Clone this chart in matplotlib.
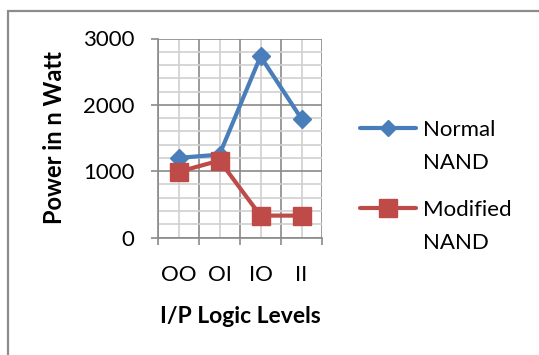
import matplotlib
matplotlib.use("Agg")
import matplotlib.pyplot as plt
from matplotlib.ticker import MultipleLocator, FixedLocator
from matplotlib.patches import Rectangle
from matplotlib.lines import Line2D
from matplotlib.transforms import ScaledTranslation

categories = ["OO", "OI", "IO", "II"]
normal_nand = [1200, 1250, 2730, 1790]
modified_nand = [990, 1160, 330, 330]
series_labels = ["Normal\nNAND", "Modified\nNAND"]
y_ticks = [0, 1000, 2000, 3000]

plt.rcParams['font.family'] = ['Lato', 'DejaVu Sans']

W, H = 539, 355
fig = plt.figure(figsize=(W / 100, H / 100), dpi=100)
fig.patches.append(Rectangle((8/W, -0.1), 1.2, (H-11)/H + 0.1, transform=fig.transFigure,
                             fill=False, edgecolor="#8c8c8c", linewidth=1.6))
ax = fig.add_axes([158/W, (H-237.5)/H, (322-158)/W, (237.5-38.5)/H])

blue = "#4A7EBB"
red = "#BE4B48"
x = list(range(len(categories)))
ax.plot(x, normal_nand, color=blue, linewidth=3.0, marker="D", markersize=9.5, zorder=3)
ax.plot(x, modified_nand, color=red, linewidth=3.0, marker="s", markersize=13.5, zorder=4)

ax.set_xlim(-0.5, len(categories) - 0.5)
ax.set_ylim(0, 3000)
ax.yaxis.set_major_locator(FixedLocator(y_ticks))
ax.yaxis.set_minor_locator(MultipleLocator(200))
ax.xaxis.set_major_locator(FixedLocator([i - 0.5 for i in range(len(categories) + 1)]))
ax.set_xticklabels([])
ax.set_xticks(x, minor=True)
ax.set_xticklabels(categories, minor=True)
off = ScaledTranslation(-6/100, 0, fig.dpi_scale_trans)
for lab in ax.get_xticklabels(minor=True):
    lab.set_transform(lab.get_transform() + off)

ax.grid(which="major", color="#8a8a8a", linewidth=1.2)
ax.grid(which="minor", color="#d0d0d0", linewidth=1.2)
ax.set_axisbelow(True)
for s in ["top", "right"]:
    ax.spines[s].set_visible(False)
for s in ["left", "bottom"]:
    ax.spines[s].set_color("#8a8a8a")
    ax.spines[s].set_linewidth(1.2)

ax.tick_params(axis="y", which="major", length=5, width=1.2, color="#8a8a8a", pad=12, labelsize=16)
ax.tick_params(axis="y", which="minor", length=0)
ax.tick_params(axis="x", which="major", length=5, width=1.2, color="#8a8a8a")
ax.tick_params(axis="x", which="minor", length=0, pad=20, labelsize=16)

ax.set_ylabel("Power in n Watt", fontsize=17, fontweight="bold", labelpad=12)
ax.set_xlabel("I/P Logic Levels", fontsize=16.5, fontweight="bold", labelpad=15)

# legend drawn manually
legend_rows = [(blue, "D", 8, 128, series_labels[0]), (red, "s", 13, 208, series_labels[1])]
for color, mk, ms, yy, label in legend_rows:
    fig.add_artist(Line2D([360/W, 416/W], [1 - yy/H, 1 - yy/H], transform=fig.transFigure,
                          color=color, linewidth=3.0, solid_capstyle="round"))
    fig.add_artist(Line2D([388/W], [1 - yy/H], transform=fig.transFigure, color=color,
                          marker=mk, markersize=ms, linestyle="none"))
    fig.text(423/W, 1 - (yy - 8)/H, label, fontsize=16, va="top", ha="left", linespacing=1.8)

fig.savefig("out.png", dpi=100)
